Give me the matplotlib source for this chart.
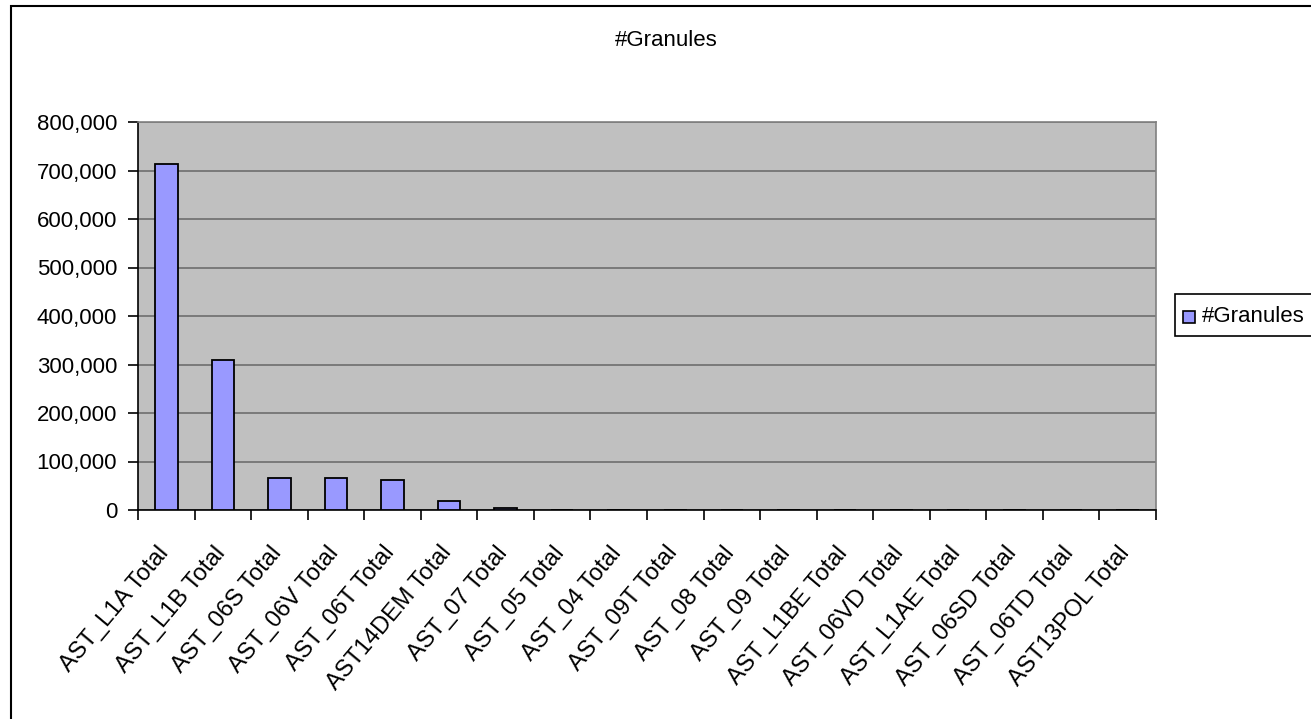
import matplotlib
matplotlib.use("Agg")
import matplotlib.pyplot as plt
from matplotlib.patches import Rectangle
from matplotlib.ticker import FuncFormatter, FixedLocator
import matplotlib.transforms as mtransforms
import numpy as np

plt.rcParams['font.family'] = ['Liberation Sans', 'DejaVu Sans']

categories = ["AST_L1A Total", "AST_L1B Total", "AST_06S Total", "AST_06V Total",
              "AST_06T Total", "AST14DEM Total", "AST_07 Total", "AST_05 Total",
              "AST_04 Total", "AST_09T Total", "AST_08 Total", "AST_09 Total",
              "AST_L1BE Total", "AST_06VD Total", "AST_L1AE Total", "AST_06SD Total",
              "AST_06TD Total", "AST13POL Total"]
granules = [713000, 309000, 66000, 66000, 62000, 18000, 4500, 0, 0, 0,
            0, 0, 0, 0, 0, 0, 0, 0]
y_ticks = [0, 100000, 200000, 300000, 400000, 500000, 600000, 700000, 800000]
series_name = '#Granules'

W, H = 1311, 719
FS = 16
fig = plt.figure(figsize=(W / 100, H / 100), dpi=100)
fig.patch.set_facecolor('white')

def fx(px):
    return px / W

def fy(py):
    return 1 - py / H

# outer chart border (extends past right and bottom edges)
fig.add_artist(Rectangle((fx(11), fy(730)), fx(W + 20 - 11), (730 - 6) / H,
                         transform=fig.transFigure, fill=False, edgecolor='black',
                         linewidth=1.5))

left, right, top, bottom = 138, 1156, 122, 510
ax = fig.add_axes([fx(left), fy(bottom), (right - left) / W, (bottom - top) / H])
ax.set_facecolor('#C0C0C0')

x = np.arange(len(categories))
bars = ax.bar(x, granules, width=0.4, color='#9999FF', edgecolor='black',
              linewidth=1.3, zorder=3)

ax.set_xlim(-0.5, len(categories) - 0.5)
ax.set_ylim(0, 800000)
ax.set_yticks(y_ticks)
ax.yaxis.set_major_formatter(FuncFormatter(lambda v, p: f"{int(v):,}"))
ax.yaxis.grid(True, color='#6E6E6E', linewidth=1.2, zorder=1)
ax.set_axisbelow(True)

# category ticks at boundaries, labels drawn rotated
ax.set_xticks(x)
ax.set_xticklabels([])
ax.tick_params(axis='x', which='major', length=0)
ax.xaxis.set_minor_locator(FixedLocator(np.arange(-0.5, len(categories), 1.0)))
ax.tick_params(axis='x', which='minor', length=7, width=1.2, color='black', direction='out')
ax.tick_params(axis='y', length=7, width=1.2, direction='out', labelsize=FS, pad=8)

lab_tr = mtransforms.blended_transform_factory(ax.transData, ax.transAxes) + \
    mtransforms.ScaledTranslation(-10 / 100, -32 / 100, fig.dpi_scale_trans)
for xi, name in zip(x, categories):
    ax.text(xi, 0, name, transform=lab_tr, rotation=50, ha='right', va='top',
            rotation_mode='anchor', fontsize=17, clip_on=False)

for s in ['top', 'right']:
    ax.spines[s].set_color('#808080')
    ax.spines[s].set_linewidth(1.2)
for s in ['left', 'bottom']:
    ax.spines[s].set_color('black')
    ax.spines[s].set_linewidth(1.2)

fig.text(fx(666), fy(40), series_name, ha='center', va='center', fontsize=FS)

# legend (frame runs past the right edge, as in the reference)
fig.add_artist(Rectangle((fx(1175), fy(336)), fx(200), (336 - 294) / H,
                         transform=fig.transFigure, facecolor='white',
                         edgecolor='black', linewidth=1.2))
fig.add_artist(Rectangle((fx(1183), fy(323)), fx(12), 12 / H,
                         transform=fig.transFigure, facecolor='#9999FF',
                         edgecolor='black', linewidth=1.2))
fig.text(fx(1202), fy(316), series_name, ha='left', va='center', fontsize=FS)

fig.savefig('out.png', dpi=100)
